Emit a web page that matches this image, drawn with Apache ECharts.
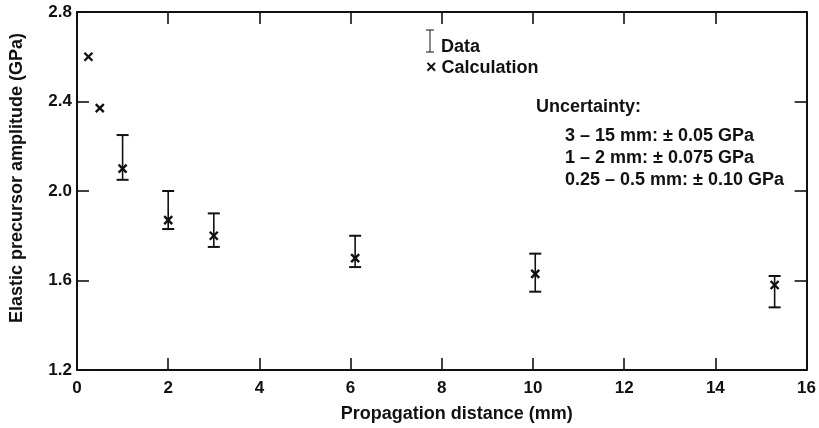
<!DOCTYPE html>
<html>
<head>
<meta charset="utf-8">
<script src="https://cdn.jsdelivr.net/npm/echarts@6/dist/echarts.min.js"></script>
<style>
  html, body { margin: 0; padding: 0; background: #fff; }
  #chart { width: 819px; height: 428px; }
</style>
</head>
<body>
<div id="chart"></div>
<script>
// Elastic precursor amplitude versus propagation distance
const calcDistance = [0.25, 0.5, 1, 2, 3, 6.1, 10.05, 15.3];
const calcAmplitude = [2.60, 2.37, 2.10, 1.87, 1.80, 1.70, 1.63, 1.58];

const dataDistance = [1, 2, 3, 6.1, 10.05, 15.3];
const dataLow = [2.05, 1.83, 1.75, 1.66, 1.55, 1.48];
const dataHigh = [2.25, 2.00, 1.90, 1.80, 1.72, 1.62];

const xTicks = [0, 2, 4, 6, 8, 10, 12, 14, 16];
const yTicks = [1.2, 1.6, 2.0, 2.4, 2.8];

const FONT = '"Liberation Sans", Arial, Helvetica, sans-serif';
const INK = '#111';

const chart = echarts.init(document.getElementById('chart'), null, { renderer: 'canvas' });

const errorBars = dataDistance.map((d, i) => [d, dataLow[i], dataHigh[i]]);
const crosses = calcDistance.map((d, i) => [d, calcAmplitude[i]]);

function renderErrorBar(params, api) {
  const top = api.coord([api.value(0), api.value(2)]);
  const bot = api.coord([api.value(0), api.value(1)]);
  const hw = 6;
  const style = { stroke: INK, lineWidth: 1.6 };
  const cap = { stroke: INK, lineWidth: 2 };
  return {
    type: 'group',
    children: [
      { type: 'line', shape: { x1: top[0], y1: top[1], x2: bot[0], y2: bot[1] }, style },
      { type: 'line', shape: { x1: top[0] - hw, y1: top[1], x2: top[0] + hw, y2: top[1] }, style: cap },
      { type: 'line', shape: { x1: bot[0] - hw, y1: bot[1], x2: bot[0] + hw, y2: bot[1] }, style: cap }
    ]
  };
}

function renderCross(params, api) {
  const p = api.coord([api.value(0), api.value(1)]);
  const s = 4;
  const style = { stroke: INK, lineWidth: 2.4 };
  return {
    type: 'group',
    children: [
      { type: 'line', shape: { x1: p[0] - s, y1: p[1] - s, x2: p[0] + s, y2: p[1] + s }, style },
      { type: 'line', shape: { x1: p[0] - s, y1: p[1] + s, x2: p[0] + s, y2: p[1] - s }, style }
    ]
  };
}

const axisLine = { show: true, onZero: false, lineStyle: { color: INK, width: 2 } };
const tickIn = { show: true, inside: true, length: 12, lineStyle: { color: INK, width: 1.6 } };
const labelStyle = { color: INK, fontFamily: FONT, fontWeight: 'bold', fontSize: 17 };
const textFont = 'bold 18px ' + FONT;

const option = {
  animation: false,
  backgroundColor: '#fff',
  grid: { left: 77, right: 12, top: 12, bottom: 54, containLabel: false },
  xAxis: [
    {
      type: 'value', position: 'bottom', min: 0, max: 16, interval: 2,
      axisLine, axisTick: tickIn, splitLine: { show: false },
      axisLabel: Object.assign({ margin: 10, formatter: v => xTicks.includes(v) ? String(v) : '' }, labelStyle),
      name: 'Propagation distance (mm)', nameLocation: 'middle', nameGap: 35,
      nameTextStyle: { color: INK, fontFamily: FONT, fontWeight: 'bold', fontSize: 18, padding: [0, 0, 0, 30] }
    },
    {
      type: 'value', position: 'top', min: 0, max: 16, interval: 2,
      axisLine, axisTick: tickIn, axisLabel: { show: false }, splitLine: { show: false }
    }
  ],
  yAxis: [
    {
      type: 'value', position: 'left', min: 1.2, max: 2.8, interval: 0.4,
      axisLine, axisTick: tickIn, splitLine: { show: false },
      axisLabel: Object.assign({ margin: 5, formatter: v => v.toFixed(1) }, labelStyle),
      name: 'Elastic precursor amplitude (GPa)', nameLocation: 'middle', nameGap: 51,
      nameTextStyle: { color: INK, fontFamily: FONT, fontWeight: 'bold', fontSize: 18, padding: [0, 0, 0, 26] }
    },
    {
      type: 'value', position: 'right', min: 1.2, max: 2.8, interval: 0.4,
      axisLine, axisTick: tickIn, axisLabel: { show: false }, splitLine: { show: false }
    }
  ],
  series: [
    {
      name: 'Data', type: 'custom', xAxisIndex: 0, yAxisIndex: 0,
      renderItem: renderErrorBar, data: errorBars, encode: { x: 0, y: [1, 2] }, z: 3
    },
    {
      name: 'Calculation', type: 'custom', xAxisIndex: 0, yAxisIndex: 0,
      renderItem: renderCross, data: crosses, encode: { x: 0, y: 1 }, z: 4
    }
  ],
  graphic: [
    // key: error bar glyph and cross glyph with their labels
    { type: 'line', shape: { x1: 430, y1: 30, x2: 430, y2: 52 }, style: { stroke: INK, lineWidth: 1 } },
    { type: 'line', shape: { x1: 426, y1: 30, x2: 434, y2: 30 }, style: { stroke: INK, lineWidth: 1 } },
    { type: 'line', shape: { x1: 426, y1: 52, x2: 434, y2: 52 }, style: { stroke: INK, lineWidth: 1 } },
    { type: 'text', left: 441, top: 38, style: { text: 'Data', fill: INK, font: textFont } },
    { type: 'text', left: 426, top: 59, style: { text: '× Calculation', fill: INK, font: textFont } },
    { type: 'text', left: 536, top: 98, style: { text: 'Uncertainty:', fill: INK, font: textFont } },
    { type: 'text', left: 565, top: 127, style: { text: '3 – 15 mm: ± 0.05 GPa', fill: INK, font: textFont } },
    { type: 'text', left: 565, top: 149, style: { text: '1 – 2 mm: ± 0.075 GPa', fill: INK, font: textFont } },
    { type: 'text', left: 565, top: 171, style: { text: '0.25 – 0.5 mm: ± 0.10 GPa', fill: INK, font: textFont } }
  ]
};

chart.setOption(option);
</script>
</body>
</html>
